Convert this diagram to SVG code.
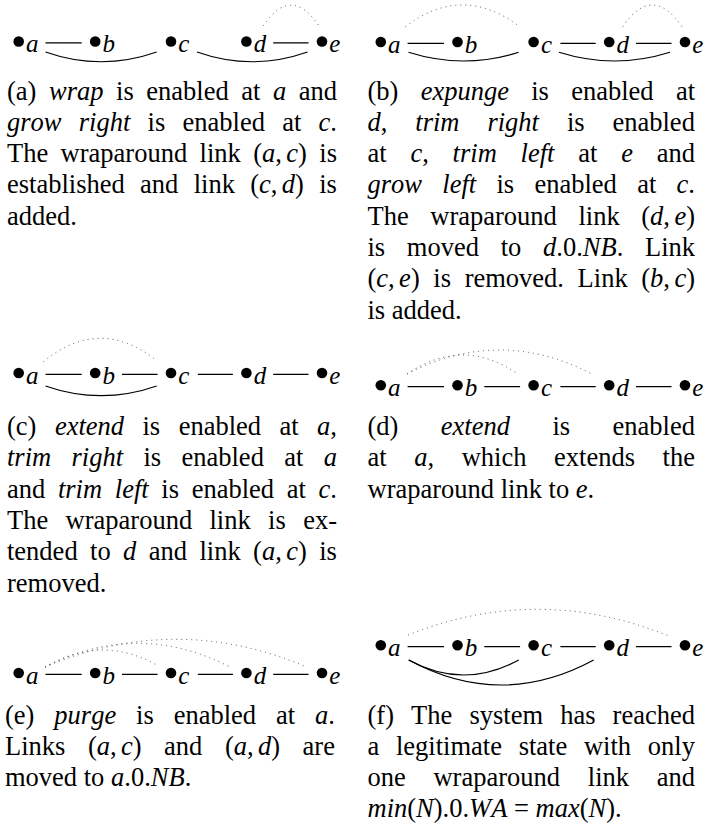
<svg xmlns="http://www.w3.org/2000/svg" width="704" height="829" viewBox="0 0 704 829">
  <style>
    .t { font-family: "Liberation Serif", "Times New Roman", serif; font-size: 26.5px; fill: #000; font-kerning: none; }
    .i { font-style: italic; }
    .lbl { font-family: "Liberation Serif", "Times New Roman", serif; font-style: italic; font-size: 25px; fill: #000; }
    .dot { fill: #000; }
    .link { fill: none; stroke: #000; stroke-width: 1.2; }
    .wrap { fill: none; stroke: #444; stroke-width: 0.9; stroke-dasharray: 1 4; }
  </style>
  <rect width="704" height="829" fill="#fff"/>

  <!-- (a) -->
  <g id="panel-a">
    <g id="a-links">
      <line class="link" x1="45.5" y1="42.8" x2="81.7" y2="42.8"/>
      <line class="link" x1="273.2" y1="42.8" x2="308.5" y2="42.8"/>
      <path class="link" d="M45.5 52 Q101 71.5 156.7 52"/>
      <path class="link" d="M197 52 Q252.2 71.5 307.5 52"/>
      <path class="wrap" d="M263.3 26 Q291 -16 319.3 26.5"/>
    </g>
    <g id="a-node-a"><circle class="dot" cx="18.7" cy="41.5" r="5.3"/><text class="lbl" x="26" y="52">a</text></g>
    <g id="a-node-b"><circle class="dot" cx="95.2" cy="41.5" r="5.3"/><text class="lbl" x="102.5" y="52">b</text></g>
    <g id="a-node-c"><circle class="dot" cx="171" cy="41.5" r="5.3"/><text class="lbl" x="178.3" y="52">c</text></g>
    <g id="a-node-d"><circle class="dot" cx="246.4" cy="41.5" r="5.3"/><text class="lbl" x="253.7" y="52">d</text></g>
    <g id="a-node-e"><circle class="dot" cx="322" cy="41.5" r="5.3"/><text class="lbl" x="329.3" y="52">e</text></g>
    <g id="a-caption">
      <text class="t" x="7" y="99.5" style="word-spacing:5.93px">(a) <tspan class="i">wrap</tspan> is enabled at <tspan class="i">a</tspan> and</text>
      <text class="t" x="7" y="130.8" style="word-spacing:10.64px"><tspan class="i">grow right</tspan> is enabled at <tspan class="i">c</tspan>.</text>
      <text class="t" x="7" y="162.1" style="word-spacing:5.78px">The wraparound link (<tspan class="i">a</tspan>,<tspan class="i" dx="4.4">c</tspan>) is</text>
      <text class="t" x="7" y="193.4" style="word-spacing:8.7px">established and link (<tspan class="i">c</tspan>,<tspan class="i" dx="4.4">d</tspan>) is</text>
      <text class="t" x="7" y="224.7">added.</text>
    </g>
  </g>

  <!-- (b) -->
  <g id="panel-b">
    <g id="b-links">
      <line class="link" x1="407.6" y1="43.3" x2="444" y2="43.3"/>
      <line class="link" x1="560.4" y1="43.3" x2="595.7" y2="43.3"/>
      <line class="link" x1="636" y1="43.3" x2="671.5" y2="43.3"/>
      <path class="link" d="M408.5 52.3 Q463.6 69.7 518.7 52.3"/>
      <path class="link" d="M559 52.3 Q614.5 69.7 670 52.3"/>
      <path class="wrap" d="M405.3 26.7 Q462 -16.5 518.7 26"/>
      <path class="wrap" d="M622.7 26.7 Q652.3 -16.7 682 26.7"/>
    </g>
    <g id="b-node-a"><circle class="dot" cx="380.8" cy="42" r="5.3"/><text class="lbl" x="388.1" y="52.5">a</text></g>
    <g id="b-node-b"><circle class="dot" cx="457.5" cy="42" r="5.3"/><text class="lbl" x="464.8" y="52.5">b</text></g>
    <g id="b-node-c"><circle class="dot" cx="533.6" cy="42" r="5.3"/><text class="lbl" x="540.9" y="52.5">c</text></g>
    <g id="b-node-d"><circle class="dot" cx="609.2" cy="42" r="5.3"/><text class="lbl" x="616.5" y="52.5">d</text></g>
    <g id="b-node-e"><circle class="dot" cx="685" cy="42" r="5.3"/><text class="lbl" x="692.3" y="52.5">e</text></g>
    <g id="b-caption">
      <text class="t" x="367.5" y="99.5" style="word-spacing:15.65px">(b) <tspan class="i">expunge</tspan> is enabled at</text>
      <text class="t" x="367.5" y="130.8" style="word-spacing:21.3px"><tspan class="i">d</tspan>, <tspan class="i">trim right</tspan> is enabled</text>
      <text class="t" x="367.5" y="162.1" style="word-spacing:17.17px">at <tspan class="i">c</tspan>, <tspan class="i">trim left</tspan> at <tspan class="i">e</tspan> and</text>
      <text class="t" x="367.5" y="193.4" style="word-spacing:13.68px"><tspan class="i">grow left</tspan> is enabled at <tspan class="i">c</tspan>.</text>
      <text class="t" x="367.5" y="224.7" style="word-spacing:14.97px">The wraparound link (<tspan class="i">d</tspan>,<tspan class="i" dx="4.4">e</tspan>)</text>
      <text class="t" x="367.5" y="256" style="word-spacing:15.07px">is moved to <tspan class="i">d</tspan>.0.<tspan class="i">NB</tspan>. Link</text>
      <text class="t" x="367.5" y="287.3" style="word-spacing:7px">(<tspan class="i">c</tspan>,<tspan class="i" dx="4.4">e</tspan>) is removed. Link (<tspan class="i">b</tspan>,<tspan class="i" dx="4.4">c</tspan>)</text>
      <text class="t" x="367.5" y="318.6">is added.</text>
    </g>
  </g>

  <!-- (c) -->
  <g id="panel-c">
    <g id="c-links">
      <line class="link" x1="45.5" y1="374.3" x2="81.7" y2="374.3"/>
      <line class="link" x1="122" y1="374.3" x2="157.5" y2="374.3"/>
      <line class="link" x1="197.8" y1="374.3" x2="232.9" y2="374.3"/>
      <line class="link" x1="273.2" y1="374.3" x2="308.5" y2="374.3"/>
      <path class="link" d="M45.5 386 Q101 405.4 156.7 386"/>
      <path class="wrap" d="M43.3 361.7 Q100 315.4 156.7 360.7"/>
    </g>
    <g id="c-node-a"><circle class="dot" cx="18.7" cy="373" r="5.3"/><text class="lbl" x="26" y="383.5">a</text></g>
    <g id="c-node-b"><circle class="dot" cx="95.2" cy="373" r="5.3"/><text class="lbl" x="102.5" y="383.5">b</text></g>
    <g id="c-node-c"><circle class="dot" cx="171" cy="373" r="5.3"/><text class="lbl" x="178.3" y="383.5">c</text></g>
    <g id="c-node-d"><circle class="dot" cx="246.4" cy="373" r="5.3"/><text class="lbl" x="253.7" y="383.5">d</text></g>
    <g id="c-node-e"><circle class="dot" cx="322" cy="373" r="5.3"/><text class="lbl" x="329.3" y="383.5">e</text></g>
    <g id="c-caption">
      <text class="t" x="7" y="435" style="word-spacing:11.84px">(c) <tspan class="i">extend</tspan> is enabled at <tspan class="i">a</tspan>,</text>
      <text class="t" x="7" y="466.3" style="word-spacing:13.74px"><tspan class="i">trim right</tspan> is enabled at <tspan class="i">a</tspan></text>
      <text class="t" x="7" y="497.6" style="word-spacing:6.05px">and <tspan class="i">trim left</tspan> is enabled at <tspan class="i">c</tspan>.</text>
      <text class="t" x="7" y="528.9" style="word-spacing:10.75px">The wraparound link is ex-</text>
      <text class="t" x="7" y="560.2" style="word-spacing:5.8px">tended to <tspan class="i">d</tspan> and link (<tspan class="i">a</tspan>,<tspan class="i" dx="4.4">c</tspan>) is</text>
      <text class="t" x="7" y="591.5">removed.</text>
    </g>
  </g>

  <!-- (d) -->
  <g id="panel-d">
    <g id="d-links">
      <line class="link" x1="407.6" y1="386.6" x2="444" y2="386.6"/>
      <line class="link" x1="484.3" y1="386.6" x2="520.1" y2="386.6"/>
      <line class="link" x1="560.4" y1="386.6" x2="595.7" y2="386.6"/>
      <line class="link" x1="636" y1="386.6" x2="671.5" y2="386.6"/>
      <path class="wrap" d="M407 374 Q461.5 336.7 516 372.7"/>
      <path class="wrap" d="M407 374 Q499.5 326 592 374"/>
    </g>
    <g id="d-node-a"><circle class="dot" cx="380.8" cy="385.3" r="5.3"/><text class="lbl" x="388.1" y="395.8">a</text></g>
    <g id="d-node-b"><circle class="dot" cx="457.5" cy="385.3" r="5.3"/><text class="lbl" x="464.8" y="395.8">b</text></g>
    <g id="d-node-c"><circle class="dot" cx="533.6" cy="385.3" r="5.3"/><text class="lbl" x="540.9" y="395.8">c</text></g>
    <g id="d-node-d"><circle class="dot" cx="609.2" cy="385.3" r="5.3"/><text class="lbl" x="616.5" y="395.8">d</text></g>
    <g id="d-node-e"><circle class="dot" cx="685" cy="385.3" r="5.3"/><text class="lbl" x="692.3" y="395.8">e</text></g>
    <g id="d-caption">
      <text class="t" x="367.5" y="435" style="word-spacing:35.8px">(d) <tspan class="i">extend</tspan> is enabled</text>
      <text class="t" x="367.5" y="466.3" style="word-spacing:20.97px">at <tspan class="i">a</tspan>, which extends the</text>
      <text class="t" x="367.5" y="497.6">wraparound link to <tspan class="i">e</tspan>.</text>
    </g>
  </g>

  <!-- (e) -->
  <g id="panel-e">
    <g id="e-links">
      <line class="link" x1="45.5" y1="674.3" x2="81.7" y2="674.3"/>
      <line class="link" x1="122" y1="674.3" x2="157.5" y2="674.3"/>
      <line class="link" x1="197.8" y1="674.3" x2="232.9" y2="674.3"/>
      <line class="link" x1="273.2" y1="674.3" x2="308.5" y2="674.3"/>
      <path class="wrap" d="M45 667.3 Q101 634 156.7 665"/>
      <path class="wrap" d="M45 667 Q137.5 619.6 230 667"/>
      <path class="wrap" d="M45 667 Q176 611.6 306.7 667"/>
    </g>
    <g id="e-node-a"><circle class="dot" cx="18.7" cy="673" r="5.3"/><text class="lbl" x="26" y="683.5">a</text></g>
    <g id="e-node-b"><circle class="dot" cx="95.2" cy="673" r="5.3"/><text class="lbl" x="102.5" y="683.5">b</text></g>
    <g id="e-node-c"><circle class="dot" cx="171" cy="673" r="5.3"/><text class="lbl" x="178.3" y="683.5">c</text></g>
    <g id="e-node-d"><circle class="dot" cx="246.4" cy="673" r="5.3"/><text class="lbl" x="253.7" y="683.5">d</text></g>
    <g id="e-node-e"><circle class="dot" cx="322" cy="673" r="5.3"/><text class="lbl" x="329.3" y="683.5">e</text></g>
    <g id="e-caption">
      <text class="t" x="5" y="723.5" style="word-spacing:13.3px">(e) <tspan class="i">purge</tspan> is enabled at <tspan class="i">a</tspan>.</text>
      <text class="t" x="5" y="754.8" style="word-spacing:15.9px">Links (<tspan class="i">a</tspan>,<tspan class="i" dx="4.4">c</tspan>) and (<tspan class="i">a</tspan>,<tspan class="i" dx="4.4">d</tspan>) are</text>
      <text class="t" x="5" y="786.1">moved to <tspan class="i">a</tspan>.0.<tspan class="i">NB</tspan>.</text>
    </g>
  </g>

  <!-- (f) -->
  <g id="panel-f">
    <g id="f-links">
      <line class="link" x1="407.6" y1="646.6" x2="444" y2="646.6"/>
      <line class="link" x1="484.3" y1="646.6" x2="520.1" y2="646.6"/>
      <line class="link" x1="560.4" y1="646.6" x2="595.7" y2="646.6"/>
      <line class="link" x1="636" y1="646.6" x2="671.5" y2="646.6"/>
      <path class="link" d="M408.7 660 Q463.7 690 518.7 660"/>
      <path class="link" d="M408.7 660 Q501.2 710 593.7 660"/>
      <path class="wrap" d="M408 635 Q538.3 583.1 668.7 636"/>
    </g>
    <g id="f-node-a"><circle class="dot" cx="380.8" cy="645.3" r="5.3"/><text class="lbl" x="388.1" y="655.8">a</text></g>
    <g id="f-node-b"><circle class="dot" cx="457.5" cy="645.3" r="5.3"/><text class="lbl" x="464.8" y="655.8">b</text></g>
    <g id="f-node-c"><circle class="dot" cx="533.6" cy="645.3" r="5.3"/><text class="lbl" x="540.9" y="655.8">c</text></g>
    <g id="f-node-d"><circle class="dot" cx="609.2" cy="645.3" r="5.3"/><text class="lbl" x="616.5" y="655.8">d</text></g>
    <g id="f-node-e"><circle class="dot" cx="685" cy="645.3" r="5.3"/><text class="lbl" x="692.3" y="655.8">e</text></g>
    <g id="f-caption">
      <text class="t" x="367.5" y="723.5" style="word-spacing:10.5px">(f) The system has reached</text>
      <text class="t" x="367.5" y="754.8" style="word-spacing:10.1px">a legitimate state with only</text>
      <text class="t" x="367.5" y="786.1" style="word-spacing:21.1px">one wraparound link and</text>
      <text class="t" x="367.5" y="817.4"><tspan class="i">min</tspan>(<tspan class="i">N</tspan>).0.<tspan class="i">WA</tspan> = <tspan class="i">max</tspan>(<tspan class="i">N</tspan>).</text>
    </g>
  </g>
</svg>
